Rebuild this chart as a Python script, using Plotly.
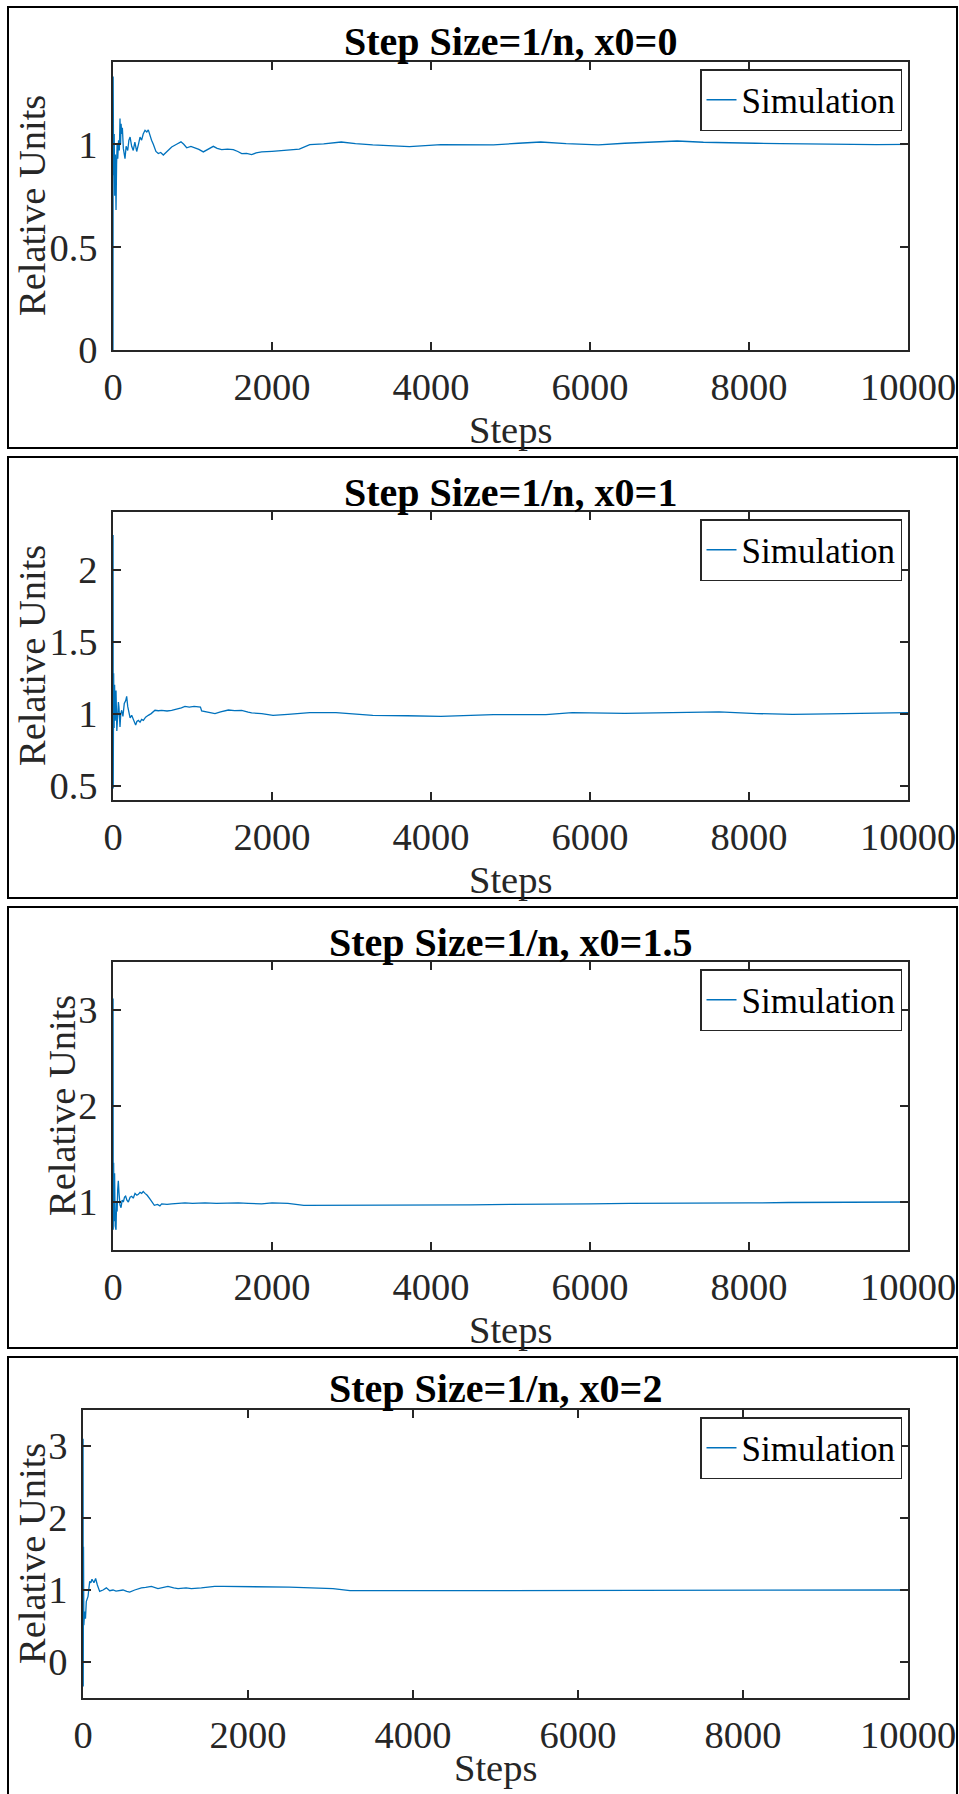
import plotly.graph_objects as go

# ---------------- data ----------------
titles = ["Step Size=1/n, x0=0", "Step Size=1/n, x0=1",
          "Step Size=1/n, x0=1.5", "Step Size=1/n, x0=2"]

steps_x0_0 = [0, 2, 8, 15, 22, 30, 38, 45, 52, 60, 70, 80, 88, 95, 102, 109, 118, 130, 140, 151,
              165, 185, 200, 215, 235, 255, 275, 298, 320, 340, 360, 380, 403, 425, 444, 465, 485,
              507, 540, 570, 600, 633, 680, 738, 800, 855, 890, 927, 980, 1031, 1080, 1136, 1200,
              1262, 1310, 1367, 1440, 1513, 1570, 1619, 1680, 1744, 1800, 1870, 2000, 2150, 2343,
              2475, 2650, 2871, 3050, 3267, 3500, 3729, 4125, 4500, 4785, 5100, 5380, 5700, 6106,
              6436, 6800, 7096, 7426, 7750, 8086, 8400, 8746, 9000, 9274, 9600, 10000]
values_x0_0 = [0.0, 1.33, 0.85, 1.05, 0.75, 0.95, 0.68, 0.9, 1.0, 0.93, 1.02, 0.97, 1.125, 1.0, 1.1,
               1.05, 1.08, 0.98, 0.95, 0.93, 0.99, 0.97, 1.02, 1.035, 0.99, 0.97, 1.01, 0.965, 1.0,
               1.035, 1.02, 1.05, 1.068, 1.06, 1.07, 1.04, 1.02, 1.0, 0.965, 0.955, 0.96, 0.948,
               0.965, 0.987, 1.0, 1.012, 1.0, 0.983, 0.99, 0.983, 0.975, 0.963, 0.975, 0.99, 0.98,
               0.974, 0.976, 0.974, 0.965, 0.955, 0.956, 0.95, 0.958, 0.963, 0.966, 0.972, 0.976,
               0.998, 1.002, 1.011, 1.003, 0.997, 0.993, 0.989, 0.998, 0.998, 0.997, 1.005, 1.011,
               1.003, 0.997, 1.005, 1.01, 1.016, 1.01, 1.006, 1.005, 1.003, 1.002, 1.0, 0.997,
               0.998, 1.0]

steps_x0_1 = [0, 1, 3, 8, 14, 20, 28, 38, 48, 59, 68, 75, 82, 88, 98, 109, 125, 142, 160, 172, 185,
              201, 215, 235, 255, 270, 285, 300, 319, 340, 360, 382, 410, 444, 480, 528, 570, 612,
              680, 738, 800, 860, 905, 960, 1020, 1073, 1100, 1115, 1200, 1283, 1353, 1451, 1530,
              1618, 1700, 1744, 1870, 2013, 2200, 2475, 2805, 3000, 3267, 3700, 4125, 4500, 4785,
              5446, 5776, 6436, 7000, 7624, 8100, 8548, 9000, 9406, 10000]
values_x0_1 = [1.0, 2.24, 0.48, 1.28, 0.9, 1.2, 0.95, 1.16, 0.88, 0.977, 1.08, 1.046, 0.93, 0.907,
               1.0, 1.023, 0.98, 1.07, 1.09, 1.12, 1.05, 1.0, 0.97, 0.988, 0.96, 0.935, 0.92, 0.945,
               0.953, 0.94, 0.96, 0.953, 0.975, 0.988, 1.0, 1.023, 1.02, 1.023, 1.018, 1.023, 1.03,
               1.04, 1.05, 1.045, 1.05, 1.05, 1.045, 1.018, 1.008, 1.0, 1.012, 1.025, 1.02, 1.023,
               1.01, 1.005, 1.0, 0.988, 0.995, 1.007, 1.007, 0.998, 0.988, 0.985, 0.981, 0.987,
               0.993, 0.993, 1.007, 1.002, 1.006, 1.012, 1.0, 0.995, 0.998, 1.002, 1.007]

steps_x0_15 = [0, 1, 3, 8, 14, 20, 28, 38, 45, 52, 59, 67, 75, 88, 101, 115, 130, 145, 159, 175,
               193, 215, 235, 255, 277, 300, 319, 340, 361, 380, 403, 430, 466, 495, 520, 560, 590,
               612, 680, 738, 820, 905, 1000, 1157, 1300, 1450, 1576, 1700, 1870, 2000, 2200, 2400,
               2700, 3000, 3500, 4000, 4500, 5000, 5500, 6000, 6500, 7000, 7500, 8000, 8500, 9000,
               9500, 10000]
values_x0_15 = [1.5, 3.12, 0.71, 1.41, 0.8, 1.3, 0.75, 0.71, 1.0, 0.9, 1.13, 1.22, 1.1, 0.97, 0.94,
                1.02, 1.0, 1.05, 1.06, 1.02, 1.0, 1.05, 1.06, 1.04, 1.09, 1.07, 1.08, 1.1, 1.09,
                1.11, 1.09, 1.07, 1.03, 0.99, 0.965, 0.975, 0.96, 0.98, 0.975, 0.98, 0.985, 0.99,
                0.985, 0.99, 0.985, 0.99, 0.99, 0.985, 0.98, 0.99, 0.985, 0.965, 0.965, 0.97, 0.97,
                0.965, 0.97, 0.975, 0.975, 0.98, 0.985, 0.985, 0.99, 0.99, 0.995, 0.995, 1.0, 1.0]

steps_x0_2 = [0, 1, 3, 6, 10, 20, 30, 40, 61, 70, 81, 95, 109, 133, 153, 174, 190, 202, 243, 283,
              324, 364, 400, 424, 485, 530, 566, 627, 708, 760, 829, 909, 1030, 1100, 1152, 1250,
              1314, 1434, 1500, 1596, 1700, 1798, 2000, 2500, 3030, 3236, 4000, 4808, 6000, 7000,
              7636, 8500, 9200, 10000]
values_x0_2 = [2.0, 3.1, -0.34, 1.6, 0.51, 0.7, 0.6, 0.84, 0.91, 1.0, 1.12, 1.1, 1.15, 1.1, 1.16,
               1.07, 1.0, 0.98, 1.0, 1.03, 0.99, 1.0, 0.985, 0.99, 1.0, 0.98, 0.97, 1.0, 1.03, 1.035,
               1.05, 1.02, 1.05, 1.03, 1.02, 1.03, 1.02, 1.03, 1.04, 1.05, 1.05, 1.05, 1.04, 1.04,
               1.02, 0.99, 0.99, 0.99, 0.99, 0.99, 0.995, 1.0, 1.0, 1.0]

series_name = "Simulation"
x_tickvals = [0, 2000, 4000, 6000, 8000, 10000]
x_ticktext = ["0", "2000", "4000", "6000", "8000", "10000"]
y_tickvals = [[0, 0.5, 1], [0.5, 1, 1.5, 2], [1, 2, 3], [0, 1, 2, 3]]
y_ticktext = [["0", "0.5", "1"], ["0.5", "1", "1.5", "2"], ["1", "2", "3"], ["0", "1", "2", "3"]]
y_ranges = [[0, 1.4], [0.4, 2.4], [0.5, 3.5], [-0.5, 3.5]]
x_label = "Steps"
y_label = "Relative Units"

all_steps = [steps_x0_0, steps_x0_1, steps_x0_15, steps_x0_2]
all_values = [values_x0_0, values_x0_1, values_x0_15, values_x0_2]

# ---------------- layout (pixels) ----------------
W, H = 959, 1794
FONT = "Liberation Serif"
AX = "#262626"
LINE = "#0072BD"

plot_px = [  # left, right, top, bottom
    (113, 908, 62, 350),
    (113, 908, 512, 800),
    (113, 908, 962, 1250),
    (83, 908, 1410, 1698),
]
boxes_px = [(8, 957, 7, 448), (8, 957, 457, 898), (8, 957, 907, 1348), (8, 957, 1357, 1800)]
title_y_px = [42, 492, 942, 1388]
xlabel_y_px = [430, 880, 1330, 1768]
ylabel_x_px = [32, 32, 62, 32]
legend_top_px = [69, 519, 969, 1417]


def fx(px):
    return px / W


def fy(py):
    return 1 - py / H


fig = go.Figure()
layout = dict(template="none", width=W, height=H, autosize=False,
              margin=dict(l=0, r=0, t=0, b=0, pad=0, autoexpand=False),
              paper_bgcolor="white", plot_bgcolor="white",
              font=dict(family=FONT, color=AX), shapes=[], annotations=[])

for i in range(4):
    sfx = "" if i == 0 else str(i + 1)
    lg = "legend" if i == 0 else "legend" + str(i + 1)
    l, r, t, b = plot_px[i]
    fig.add_trace(go.Scatter(x=all_steps[i], y=all_values[i], mode="lines", name=series_name,
                             line=dict(color=LINE, width=1.3), xaxis="x" + sfx, yaxis="y" + sfx,
                             legend=lg, showlegend=True))
    axcommon = dict(showline=True, linecolor=AX, linewidth=1.5, mirror="ticks", ticks="inside",
                    ticklen=8, tickwidth=1.5, tickcolor=AX, showgrid=False, zeroline=False,
                    automargin=False, tickfont=dict(family=FONT, size=38.5, color=AX))
    layout["xaxis" + sfx] = dict(axcommon, domain=[fx(l), fx(r)], range=[0, 10000],
                                 tickvals=x_tickvals, ticktext=x_ticktext,
                                 anchor="y" + sfx, ticklabelstandoff=2)
    layout["yaxis" + sfx] = dict(axcommon, domain=[fy(b), fy(t)], range=y_ranges[i],
                                 tickvals=y_tickvals[i], ticktext=y_ticktext[i],
                                 anchor="x" + sfx, ticklabelstandoff=6)
    layout[lg] = dict(x=fx(902), xanchor="right", y=fy(legend_top_px[i]), yanchor="top",
                      bgcolor="white", bordercolor=AX, borderwidth=1.5,
                      font=dict(family=FONT, size=35, color="black"),
                      itemwidth=30, tracegroupgap=0)
    layout["annotations"].append(dict(text="<b>" + titles[i] + "</b>", xref="paper", yref="paper",
                                      x=fx((l + r) / 2), y=fy(title_y_px[i]), xanchor="center",
                                      yanchor="middle", showarrow=False,
                                      font=dict(family=FONT, size=40, color="black")))
    layout["annotations"].append(dict(text=x_label, xref="paper", yref="paper",
                                      x=fx((l + r) / 2), y=fy(xlabel_y_px[i]), xanchor="center",
                                      yanchor="middle", showarrow=False,
                                      font=dict(family=FONT, size=38.5, color=AX)))
    layout["annotations"].append(dict(text=y_label, xref="paper", yref="paper", textangle=-90,
                                      x=fx(ylabel_x_px[i]), y=fy((t + b) / 2), xanchor="center",
                                      yanchor="middle", showarrow=False,
                                      font=dict(family=FONT, size=38.5, color=AX)))
    bl, br, bt, bb = boxes_px[i]
    layout["shapes"].append(dict(type="rect", xref="paper", yref="paper", x0=fx(bl), x1=fx(br),
                                 y0=fy(bb), y1=fy(bt), line=dict(color="black", width=2),
                                 fillcolor="rgba(0,0,0,0)", layer="above"))

fig.update_layout(**layout)
fig.write_html("out.html")
